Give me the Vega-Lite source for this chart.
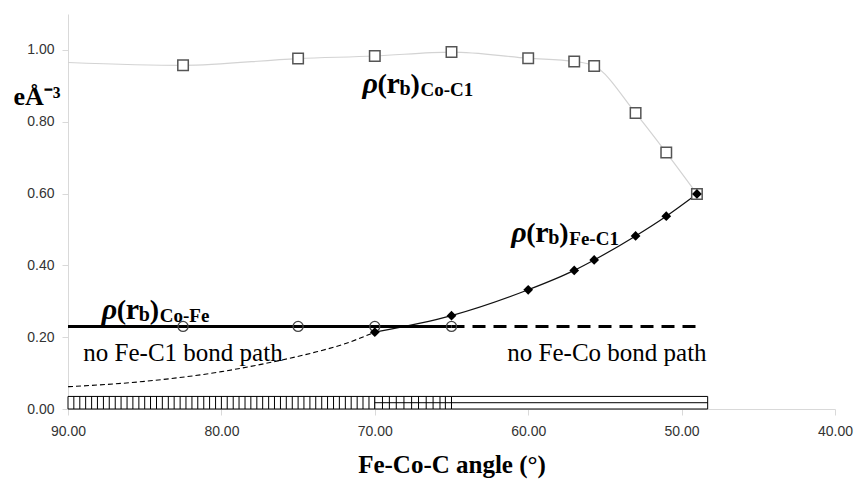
{
  "$schema": "https://vega.github.io/schema/vega-lite/v6.json",
  "width": 767,
  "height": 395,
  "autosize": {"type": "none"},
  "padding": {"left": 68, "top": 14, "right": 24, "bottom": 70},
  "background": "white",
  "config": {"view": {"stroke": null}, "axis": {"grid": false}},
  "datasets": {
    "curves": [
      {"series": "Co-C1", "angle": 90, "rho": 0.965},
      {"series": "Co-C1", "angle": 82.5, "rho": 0.957},
      {"series": "Co-C1", "angle": 75, "rho": 0.976},
      {"series": "Co-C1", "angle": 70, "rho": 0.983},
      {"series": "Co-C1", "angle": 65, "rho": 0.994},
      {"series": "Co-C1", "angle": 60, "rho": 0.977},
      {"series": "Co-C1", "angle": 57, "rho": 0.968},
      {"series": "Co-C1", "angle": 55.7, "rho": 0.955},
      {"series": "Co-C1", "angle": 53, "rho": 0.824},
      {"series": "Co-C1", "angle": 51, "rho": 0.714},
      {"series": "Co-C1", "angle": 49, "rho": 0.599},
      {"series": "Fe-C1", "angle": 70, "rho": 0.214},
      {"series": "Fe-C1", "angle": 65, "rho": 0.26},
      {"series": "Fe-C1", "angle": 60, "rho": 0.332},
      {"series": "Fe-C1", "angle": 57, "rho": 0.386},
      {"series": "Fe-C1", "angle": 55.7, "rho": 0.415},
      {"series": "Fe-C1", "angle": 53, "rho": 0.482},
      {"series": "Fe-C1", "angle": 51, "rho": 0.537},
      {"series": "Fe-C1", "angle": 49, "rho": 0.599},
      {"series": "Fe-C1 extrapolated", "angle": 90, "rho": 0.062},
      {"series": "Fe-C1 extrapolated", "angle": 85, "rho": 0.077},
      {"series": "Fe-C1 extrapolated", "angle": 80, "rho": 0.104},
      {"series": "Fe-C1 extrapolated", "angle": 77, "rho": 0.128},
      {"series": "Fe-C1 extrapolated", "angle": 74, "rho": 0.157},
      {"series": "Fe-C1 extrapolated", "angle": 72, "rho": 0.181},
      {"series": "Fe-C1 extrapolated", "angle": 70, "rho": 0.214},
      {"series": "Co-Fe", "angle": 90, "rho": 0.23},
      {"series": "Co-Fe", "angle": 82.5, "rho": 0.23},
      {"series": "Co-Fe", "angle": 75, "rho": 0.23},
      {"series": "Co-Fe", "angle": 70, "rho": 0.23},
      {"series": "Co-Fe", "angle": 65, "rho": 0.23},
      {"series": "Co-Fe extrapolated", "angle": 65, "rho": 0.23},
      {"series": "Co-Fe extrapolated", "angle": 49, "rho": 0.23}
    ],
    "bonds": [
      {"segment": "Co-Fe only", "from": 90, "to": 70},
      {"segment": "both", "from": 70, "to": 65},
      {"segment": "Fe-C1 only", "from": 65, "to": 48.3}
    ],
    "hatch": [
      {"angle": 89.62}, {"angle": 89.23}, {"angle": 88.85}, {"angle": 88.46}, {"angle": 88.08},
      {"angle": 87.69}, {"angle": 87.31}, {"angle": 86.92}, {"angle": 86.54}, {"angle": 86.15},
      {"angle": 85.77}, {"angle": 85.38}, {"angle": 85.0}, {"angle": 84.62}, {"angle": 84.23},
      {"angle": 83.85}, {"angle": 83.46}, {"angle": 83.08}, {"angle": 82.69}, {"angle": 82.31},
      {"angle": 81.92}, {"angle": 81.54}, {"angle": 81.15}, {"angle": 80.77}, {"angle": 80.38},
      {"angle": 80.0}, {"angle": 79.62}, {"angle": 79.23}, {"angle": 78.85}, {"angle": 78.46},
      {"angle": 78.08}, {"angle": 77.69}, {"angle": 77.31}, {"angle": 76.92}, {"angle": 76.54},
      {"angle": 76.15}, {"angle": 75.77}, {"angle": 75.38}, {"angle": 75.0}, {"angle": 74.62},
      {"angle": 74.23}, {"angle": 73.85}, {"angle": 73.46}, {"angle": 73.08}, {"angle": 72.69},
      {"angle": 72.31}, {"angle": 71.92}, {"angle": 71.54}, {"angle": 71.15}, {"angle": 70.77},
      {"angle": 70.38},
      {"angle": 69.5}, {"angle": 69.05}, {"angle": 68.6}, {"angle": 68.1}, {"angle": 67.6},
      {"angle": 67.15}, {"angle": 66.65}, {"angle": 66.2}, {"angle": 65.75}, {"angle": 65.4}
    ],
    "rholabels": [
      {"name": "Co-C1", "angle": 70.8, "rho": 0.88},
      {"name": "Fe-C1", "angle": 61.1, "rho": 0.466},
      {"name": "Co-Fe", "angle": 87.8, "rho": 0.251}
    ],
    "notes": [
      {"text": "no Fe-C1 bond path", "angle": 89.0, "rho": 0.135, "side": "left"},
      {"text": "no Fe-Co bond path", "angle": 48.37, "rho": 0.135, "side": "right"}
    ]
  },
  "layer": [
    {
      "data": {"name": "curves"},
      "transform": [{"filter": "datum.series === 'Co-C1'"}],
      "mark": {"type": "line", "color": "#d3d3d3", "strokeWidth": 1.2, "interpolate": "monotone"},
      "encoding": {
        "x": {
          "field": "angle", "type": "quantitative",
          "scale": {"domain": [40, 90], "reverse": true, "nice": false, "zero": false},
          "axis": {
            "values": [90, 80, 70, 60, 50, 40], "format": ".2f",
            "labelFont": "Liberation Sans", "labelFontSize": 14, "labelColor": "#333333",
            "labelFlush": false, "labelPadding": 9,
            "domainColor": "#d9d9d9", "tickColor": "#d9d9d9", "tickSize": 6,
            "title": "Fe-Co-C angle (°)", "titleFont": "Liberation Serif", "titleFontSize": 25,
            "titleFontWeight": "bold", "titleColor": "#000000",
            "titleBaseline": "alphabetic", "titleY": 63
          }
        },
        "y": {
          "field": "rho", "type": "quantitative",
          "scale": {"domain": [0, 1.1], "nice": false},
          "axis": {
            "values": [0, 0.2, 0.4, 0.6, 0.8, 1.0], "format": ".2f",
            "labelFont": "Liberation Sans", "labelFontSize": 14, "labelColor": "#333333",
            "labelPadding": 8,
            "domainColor": "#d9d9d9", "tickColor": "#d9d9d9", "tickSize": 6,
            "title": "eÅ⁻³", "titleFont": "Liberation Serif", "titleFontSize": 26,
            "titleFontWeight": "bold", "titleColor": "#000000", "titleAngle": 0,
            "titleAlign": "left", "titleBaseline": "alphabetic", "titleX": -55, "titleY": 90
          }
        },
        "order": {"field": "angle", "sort": "descending"}
      }
    },
    {
      "data": {"name": "curves"},
      "transform": [{"filter": "datum.series === 'Fe-C1 extrapolated'"}],
      "mark": {"type": "line", "color": "#000000", "strokeWidth": 1.1, "strokeDash": [5, 3], "interpolate": "monotone"},
      "encoding": {
        "x": {"field": "angle", "type": "quantitative"},
        "y": {"field": "rho", "type": "quantitative"},
        "order": {"field": "angle", "sort": "descending"}
      }
    },
    {
      "data": {"name": "curves"},
      "transform": [{"filter": "datum.series === 'Fe-C1'"}],
      "mark": {"type": "line", "color": "#111111", "strokeWidth": 1.2, "interpolate": "monotone"},
      "encoding": {
        "x": {"field": "angle", "type": "quantitative"},
        "y": {"field": "rho", "type": "quantitative"},
        "order": {"field": "angle", "sort": "descending"}
      }
    },
    {
      "data": {"name": "curves"},
      "transform": [{"filter": "datum.series === 'Co-Fe'"}],
      "mark": {"type": "line", "color": "#000000", "strokeWidth": 3},
      "encoding": {
        "x": {"field": "angle", "type": "quantitative"},
        "y": {"field": "rho", "type": "quantitative"},
        "order": {"field": "angle", "sort": "descending"}
      }
    },
    {
      "data": {"name": "curves"},
      "transform": [{"filter": "datum.series === 'Co-Fe extrapolated'"}],
      "mark": {"type": "line", "color": "#000000", "strokeWidth": 3, "strokeDash": [13, 8]},
      "encoding": {
        "x": {"field": "angle", "type": "quantitative"},
        "y": {"field": "rho", "type": "quantitative"},
        "order": {"field": "angle", "sort": "descending"}
      }
    },
    {
      "data": {"name": "curves"},
      "transform": [{"filter": "datum.series === 'Co-Fe' && datum.angle < 90"}],
      "mark": {"type": "point", "shape": "circle", "filled": false, "stroke": "#444444", "strokeWidth": 1.3, "size": 100, "opacity": 1},
      "encoding": {
        "x": {"field": "angle", "type": "quantitative"},
        "y": {"field": "rho", "type": "quantitative"}
      }
    },
    {
      "data": {"name": "curves"},
      "transform": [{"filter": "datum.series === 'Co-C1' && datum.angle < 90"}],
      "mark": {"type": "point", "shape": "square", "filled": true, "fill": "#ffffff", "stroke": "#555555", "strokeWidth": 1.5, "size": 110, "opacity": 1},
      "encoding": {
        "x": {"field": "angle", "type": "quantitative"},
        "y": {"field": "rho", "type": "quantitative"}
      }
    },
    {
      "data": {"name": "curves"},
      "transform": [{"filter": "datum.series === 'Fe-C1'"}],
      "mark": {"type": "point", "shape": "diamond", "filled": true, "color": "#000000", "size": 95, "opacity": 1},
      "encoding": {
        "x": {"field": "angle", "type": "quantitative"},
        "y": {"field": "rho", "type": "quantitative"}
      }
    },
    {
      "data": {"name": "bonds"},
      "mark": {"type": "rect", "fill": "#ffffff", "stroke": "#000000", "strokeWidth": 1},
      "encoding": {
        "x": {"field": "from", "type": "quantitative"},
        "x2": {"field": "to"},
        "y": {"datum": 0},
        "y2": {"datum": 0.035}
      }
    },
    {
      "data": {"name": "hatch"},
      "mark": {"type": "rule", "color": "#000000", "strokeWidth": 1},
      "encoding": {
        "x": {"field": "angle", "type": "quantitative"},
        "y": {"datum": 0},
        "y2": {"datum": 0.035}
      }
    },
    {
      "data": {"name": "bonds"},
      "transform": [{"filter": "datum.segment !== 'Co-Fe only'"}],
      "mark": {"type": "rule", "color": "#000000", "strokeWidth": 1},
      "encoding": {
        "x": {"field": "from", "type": "quantitative"},
        "x2": {"field": "to"},
        "y": {"datum": 0.0175}
      }
    },
    {
      "data": {"name": "rholabels"},
      "mark": {"type": "text", "text": "ρ", "align": "left", "baseline": "alphabetic", "font": "Liberation Serif", "fontStyle": "italic", "fontWeight": "bold", "fontSize": 30, "dx": 0},
      "encoding": {"x": {"field": "angle", "type": "quantitative"}, "y": {"field": "rho", "type": "quantitative"}}
    },
    {
      "data": {"name": "rholabels"},
      "mark": {"type": "text", "text": "(", "align": "left", "baseline": "alphabetic", "font": "Liberation Serif", "fontWeight": "bold", "fontSize": 28, "dx": 15},
      "encoding": {"x": {"field": "angle", "type": "quantitative"}, "y": {"field": "rho", "type": "quantitative"}}
    },
    {
      "data": {"name": "rholabels"},
      "mark": {"type": "text", "text": "r", "align": "left", "baseline": "alphabetic", "font": "Liberation Serif", "fontWeight": "bold", "fontSize": 30, "dx": 24},
      "encoding": {"x": {"field": "angle", "type": "quantitative"}, "y": {"field": "rho", "type": "quantitative"}}
    },
    {
      "data": {"name": "rholabels"},
      "mark": {"type": "text", "text": "b", "align": "left", "baseline": "alphabetic", "font": "Liberation Serif", "fontWeight": "bold", "fontSize": 20, "dx": 37, "dy": 2},
      "encoding": {"x": {"field": "angle", "type": "quantitative"}, "y": {"field": "rho", "type": "quantitative"}}
    },
    {
      "data": {"name": "rholabels"},
      "mark": {"type": "text", "text": ")", "align": "left", "baseline": "alphabetic", "font": "Liberation Serif", "fontWeight": "bold", "fontSize": 28, "dx": 48},
      "encoding": {"x": {"field": "angle", "type": "quantitative"}, "y": {"field": "rho", "type": "quantitative"}}
    },
    {
      "data": {"name": "rholabels"},
      "mark": {"type": "text", "align": "left", "baseline": "alphabetic", "font": "Liberation Serif", "fontWeight": "bold", "fontSize": 19, "dx": 58, "dy": 3},
      "encoding": {"x": {"field": "angle", "type": "quantitative"}, "y": {"field": "rho", "type": "quantitative"}, "text": {"field": "name"}}
    },
    {
      "data": {"name": "notes"},
      "transform": [{"filter": "datum.side === 'left'"}],
      "mark": {"type": "text", "align": "left", "baseline": "alphabetic", "font": "Liberation Serif", "fontSize": 25, "color": "#000000"},
      "encoding": {"x": {"field": "angle", "type": "quantitative"}, "y": {"field": "rho", "type": "quantitative"}, "text": {"field": "text"}}
    },
    {
      "data": {"name": "notes"},
      "transform": [{"filter": "datum.side === 'right'"}],
      "mark": {"type": "text", "align": "right", "baseline": "alphabetic", "font": "Liberation Serif", "fontSize": 25, "color": "#000000"},
      "encoding": {"x": {"field": "angle", "type": "quantitative"}, "y": {"field": "rho", "type": "quantitative"}, "text": {"field": "text"}}
    }
  ]
}
